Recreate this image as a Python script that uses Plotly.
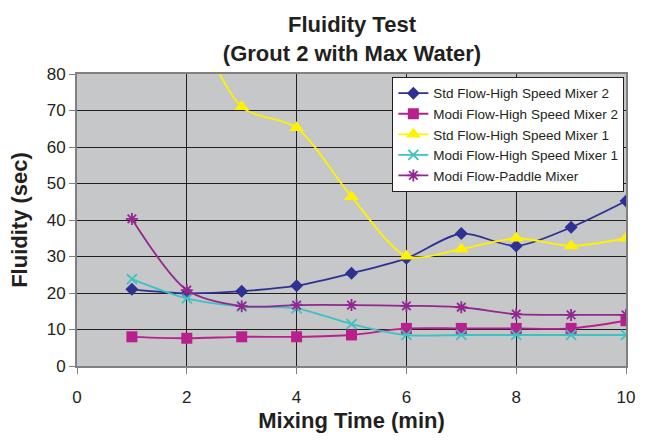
import plotly.graph_objects as go

time_min = [1, 2, 3, 4, 5, 6, 7, 8, 9, 10]
std_hs2 = [21.0, 19.9, 20.5, 22.0, 25.4, 29.5, 36.3, 32.9, 38.0, 45.2]
modi_hs2 = [8.0, 7.6, 8.0, 8.0, 8.5, 10.3, 10.3, 10.3, 10.3, 12.4]
std_hs1_x = [2, 3, 4, 5, 6, 7, 8, 9, 10]
std_hs1 = [100.0, 71.0, 65.3, 46.4, 30.1, 32.0, 35.0, 32.9, 35.0]
modi_hs1 = [23.8, 18.5, 16.3, 15.8, 11.5, 8.5, 8.5, 8.5, 8.5, 8.5]
modi_paddle = [40.3, 20.8, 16.4, 16.7, 16.7, 16.5, 16.1, 14.2, 14.0, 14.0]

names = ["Std Flow-High Speed Mixer 2", "Modi Flow-High Speed Mixer 2",
         "Std Flow-High Speed Mixer 1", "Modi Flow-High Speed Mixer 1",
         "Modi Flow-Paddle Mixer"]

FONT = "Liberation Sans, Arial, sans-serif"
fig = go.Figure()

def add(x, y, name, color, symbol, size, mline=None):
    marker = dict(symbol=symbol, size=size, color=color)
    if mline:
        marker["line"] = dict(color=color, width=mline)
    fig.add_trace(go.Scatter(x=x, y=y, name=name, mode="lines+markers",
                             line=dict(color=color, width=1.8, shape="spline", smoothing=0.8),
                             marker=marker))

add(time_min, std_hs2, names[0], "#2E3192", "diamond", 10)
add(time_min, modi_hs2, names[1], "#B8218C", "square", 11)
add(std_hs1_x, std_hs1, names[2], "#FFF200", "triangle-up", 13)
add(time_min, modi_hs1, names[3], "#3EC1C1", "x-thin", 10, 1.8)
add(time_min, modi_paddle, names[4], "#92278F", "asterisk", 10, 1.8)

fig.update_layout(
    width=648, height=441,
    margin=dict(l=77, r=22, t=74, b=75),
    paper_bgcolor="white",
    plot_bgcolor="#C6C7C9",
    font=dict(family=FONT, color="#231F20"),
    title=dict(text="<b>Fluidity Test<br>(Grout 2 with Max Water)</b>",
               x=352 / 648, xanchor="center", y=1 - 32 / 441, yanchor="middle",
               font=dict(size=22, family=FONT, color="#231F20")),
    showlegend=True,
    legend=dict(x=0.997, xanchor="right", y=0.99, yanchor="top",
                bgcolor="white", bordercolor="#231F20", borderwidth=1,
                font=dict(size=13.5, family=FONT, color="#231F20"),
                itemwidth=30, tracegroupgap=0),
    xaxis=dict(range=[0, 10], tickvals=[0, 2, 4, 6, 8, 10], showgrid=True,
               automargin=False,
               gridcolor="#231F20", gridwidth=1, zeroline=False,
               showline=True, linecolor="#808080", linewidth=2, mirror=True,
               ticks="outside", ticklen=6, tickcolor="#808080", tickwidth=1,
               tickfont=dict(size=17), ticklabelstandoff=9,
               title=dict(text="<b>Mixing Time (min)</b>", font=dict(size=22), standoff=6)),
    yaxis=dict(range=[0, 80], tickvals=list(range(0, 81, 10)), showgrid=True,
               automargin=False,
               gridcolor="#231F20", gridwidth=1, zeroline=False,
               showline=True, linecolor="#808080", linewidth=2, mirror=True,
               ticks="outside", ticklen=6, tickcolor="#808080", tickwidth=1,
               tickfont=dict(size=17),
               title=dict(text="<b>Fluidity (sec)</b>", font=dict(size=22), standoff=13)),
)

fig.write_html("out.html")
